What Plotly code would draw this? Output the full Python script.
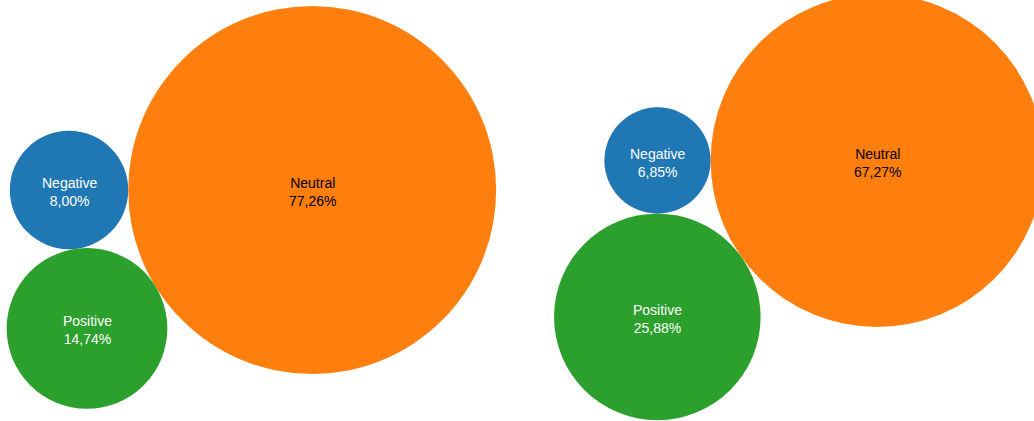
import math
import plotly.graph_objects as go

# ---- data -----------------------------------------------------------------
categories = ["Negative", "Neutral", "Positive"]
values_left = [8.00, 77.26, 14.74]     # percentages, left group
values_right = [6.85, 67.27, 25.88]    # percentages, right group
colors = ["#1f77b4", "#ff7f0e", "#2ca02c"]
text_colors = ["#ffffff", "#000000", "#ffffff"]

W, H = 1034, 421


# ---- d3-style sibling packing (area proportional to value) ----------------
def place(b, a, c):
    dx = b["x"] - a["x"]
    dy = b["y"] - a["y"]
    d2 = dx * dx + dy * dy
    a2 = (a["r"] + c["r"]) ** 2
    b2 = (b["r"] + c["r"]) ** 2
    if a2 > b2:
        x = (d2 + b2 - a2) / (2 * d2)
        y = math.sqrt(max(0.0, b2 / d2 - x * x))
        c["x"] = b["x"] - x * dx - y * dy
        c["y"] = b["y"] - x * dy + y * dx
    else:
        x = (d2 + a2 - b2) / (2 * d2)
        y = math.sqrt(max(0.0, a2 / d2 - x * x))
        c["x"] = a["x"] + x * dx - y * dy
        c["y"] = a["y"] + x * dy + y * dx


def pack(values):
    circles = [{"r": math.sqrt(v)} for v in values]
    a, b, c = circles
    a["x"], a["y"] = -b["r"], 0.0
    b["x"], b["y"] = a["r"], 0.0
    place(b, a, c)
    return circles


def fmt(v):
    return f"{v:.2f}".replace(".", ",") + "%"


# view parameters per panel: pixel origin and pixels per unit
views = [
    dict(values=values_left, xdom=[0.0, 0.5], px0=0, px1=W / 2, ox=253.0, oy=190.0, k=20.93),
    dict(values=values_right, xdom=[0.5, 1.0], px0=W / 2, px1=W, ox=824.0, oy=160.5, k=20.3),
]

fig = go.Figure()
shapes = []
annotations = []
for i, v in enumerate(views, start=1):
    circles = pack(v["values"])
    xref = "x" if i == 1 else f"x{i}"
    yref = "y" if i == 1 else f"y{i}"
    for c, col, tcol, cat, val in zip(circles, colors, text_colors, categories, v["values"]):
        shapes.append(dict(
            type="circle", xref=xref, yref=yref,
            x0=c["x"] - c["r"], x1=c["x"] + c["r"],
            y0=c["y"] - c["r"], y1=c["y"] + c["r"],
            fillcolor=col, line=dict(width=0), layer="below",
        ))
        annotations.append(dict(
            x=c["x"], y=c["y"], xref=xref, yref=yref,
            text=f"{cat}<br>{fmt(val)}", showarrow=False,
            xanchor="center", yanchor="middle", yshift=-2,
            font=dict(color=tcol, size=14,
                      family="Liberation Sans, Arial, sans-serif"),
        ))
    # invisible anchor trace so the subplot exists
    fig.add_trace(go.Scatter(
        x=[c["x"] for c in circles], y=[c["y"] for c in circles],
        mode="markers", marker=dict(opacity=0),
        hoverinfo="skip", showlegend=False,
        xaxis=xref, yaxis=yref,
    ))
    k, ox, oy = v["k"], v["ox"], v["oy"]
    xa = dict(domain=v["xdom"], range=[(v["px0"] - ox) / k, (v["px1"] - ox) / k],
              visible=False, showgrid=False, zeroline=False, fixedrange=True,
              anchor=yref)
    ya = dict(domain=[0, 1], range=[(H - oy) / k, (0 - oy) / k],
              visible=False, showgrid=False, zeroline=False, fixedrange=True,
              anchor=xref)
    fig.update_layout(**{("xaxis" if i == 1 else f"xaxis{i}"): xa,
                         ("yaxis" if i == 1 else f"yaxis{i}"): ya})

fig.update_layout(
    width=W, height=H,
    margin=dict(l=0, r=0, t=0, b=0),
    paper_bgcolor="white",
    plot_bgcolor="rgba(0,0,0,0)",
    shapes=shapes,
    annotations=annotations,
    showlegend=False,
)

fig.write_html(
    "out.html",
    config={"displayModeBar": False},
    post_script="document.body.style.margin='0';document.body.style.overflow='hidden';",
)
